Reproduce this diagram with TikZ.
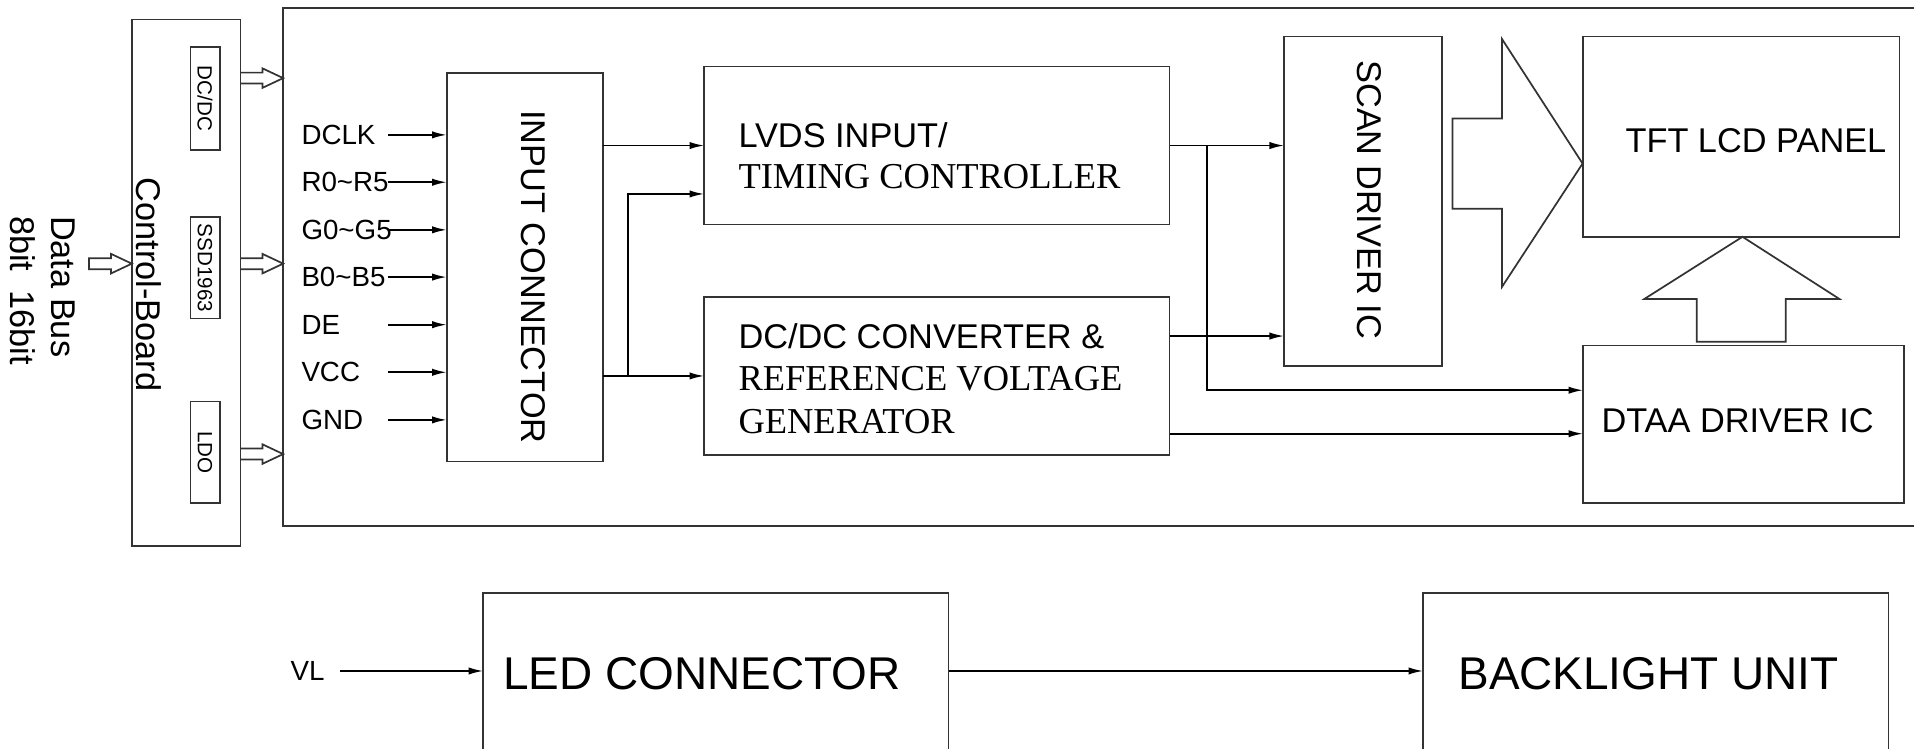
\documentclass[tikz,border=0pt]{standalone}
\usepackage{fontspec}
\setmainfont{Liberation Serif}
\setsansfont{Liberation Sans}
\usetikzlibrary{arrows.meta}
\begin{document}
\begin{tikzpicture}[x=0.01cm,y=-0.01cm,
  boxline/.style={draw=black!80, line width=0.4pt, line join=miter},
  blk/.style={boxline, rectangle, inner sep=0pt, outer sep=0pt},
  arr/.style={draw=black, line width=0.4pt, -{Latex[length=3.4pt,width=1.7pt]}},
  wire/.style={draw=black, line width=0.4pt},
  txt/.style={inner sep=0pt, outer sep=0pt, font=\sffamily\fontsize{8pt}{9.6pt}\selectfont},
  lbl/.style={inner sep=0pt, outer sep=0pt, font=\sffamily\fontsize{6.46pt}{7.5pt}\selectfont},
  tinytxt/.style={inner sep=0pt, outer sep=0pt, font=\sffamily\fontsize{4.8pt}{5.5pt}\selectfont},
  bigtxt/.style={inner sep=0pt, outer sep=0pt, font=\sffamily\fontsize{10.7pt}{12pt}\selectfont},
  seriftxt/.style={inner sep=0pt, outer sep=0pt, font=\rmfamily\fontsize{8.5pt}{10pt}\selectfont},
]
\useasboundingbox (0,0) rectangle (1568,613.6);
\fill[white] (0,0) rectangle (1568,613.6);
\clip (0,0) rectangle (1568,613.6);

% ---------- Control board ----------
\node[blk, minimum width=0.89cm, minimum height=4.31cm] (cb) at (152.5,231.5) {};
\node[txt, rotate=-90] (cbt) at (121.5,233) {Control-Board};
\node[blk, minimum width=0.24cm, minimum height=0.84cm] (sdc) at (168,80.6) {};
\node[tinytxt, rotate=-90] (sdct) at (sdc) {DC/DC};
\node[blk, minimum width=0.24cm, minimum height=0.83cm] (sssd) at (168,219.5) {};
\node[tinytxt, rotate=-90] (sssdt) at (sssd) {SSD1963};
\node[blk, minimum width=0.24cm, minimum height=0.83cm] (sldo) at (168,370.5) {};
\node[tinytxt, rotate=-90] (sldot) at (sldo) {LDO};

% data bus text
\node[txt, rotate=-90, anchor=west] (db1) at (52,177) {Data Bus};
\node[txt, rotate=-90, anchor=west] (db2) at (19,177) {8bit\ \ 16bit};

% data bus hollow arrow
\draw[boxline] (73,211.5) -- (91,211.5) -- (91,208) -- (108,216) -- (91,224) -- (91,220.5) -- (73,220.5) -- cycle;

% hollow arrows control board -> module
\foreach \yy in {64,216,372} {
  \draw[boxline] (197,\yy-4.5) -- (215,\yy-4.5) -- (215,\yy-8) -- (232,\yy) -- (215,\yy+8) -- (215,\yy+4.5) -- (197,\yy+4.5);
}

% ---------- Module frame ----------
\coordinate (mtl) at (232,6.5);
\coordinate (mbl) at (232,431);
\draw[boxline] (1580,6.5) -- (mtl) -- (mbl) -- (1580,431);

% ---------- Input connector ----------
\node[blk, minimum width=1.28cm, minimum height=3.18cm] (inconn) at (430,219) {};
\node[txt, rotate=-90] (inconnt) at (437,227) {INPUT CONNECTOR};

\foreach \t/\yy [count=\i] in {DCLK/110.5, R0\textasciitilde R5/149.3, G0\textasciitilde G5/188.3, B0\textasciitilde B5/227, DE/266, VCC/305, GND/344} {
  \node[lbl, anchor=west] (lab\i) at (247,\yy) {\t};
  \coordinate (src\i) at (318,\yy);
  \draw[arr] (src\i) -- (inconn.west |- src\i);
}

% ---------- LVDS / DC-DC ----------
\node[blk, minimum width=3.81cm, minimum height=1.295cm] (lvds) at (767.5,119.25) {};
\node[txt, anchor=base west] (lvdst1) at (605,121) {LVDS INPUT/};
\node[seriftxt, anchor=base west] (lvdst2) at (605,154.8) {TIMING CONTROLLER};

\node[blk, minimum width=3.81cm, minimum height=1.29cm] (dcconv) at (767.5,308) {};
\node[txt, anchor=base west] (dct1) at (605,285.5) {DC/DC CONVERTER \&};
\node[seriftxt, anchor=base west] (dct2) at (605,320) {REFERENCE VOLTAGE};
\node[seriftxt, anchor=base west] (dct3) at (605,354.8) {GENERATOR};

% ---------- Scan driver ----------
\node[blk, minimum width=1.29cm, minimum height=2.70cm] (scan) at (1116.5,165) {};
\node[txt, rotate=-90] (scant) at (1122,163.6) {SCAN DRIVER IC};

% ---------- TFT panel / data driver ----------
\node[blk, minimum width=2.59cm, minimum height=1.64cm] (tft) at (1426.5,112) {};
\node[txt] (tftt) at (1438.5,115) {TFT LCD PANEL};
\node[blk, minimum width=2.63cm, minimum height=1.29cm] (dtaa) at (1428.5,347.5) {};
\node[txt] (dtaat) at (1423.5,344.5) {DTAA DRIVER IC};

% big hollow arrows
\draw[boxline] (1190,97) -- (1230.5,97) -- (1230.5,32) -- (1296.5,134) -- (1230.5,235) -- (1230.5,171) -- (1190,171) -- cycle;
\draw[boxline] (1390,280) -- (1390,245) -- (1347,245) -- (1427.5,194) -- (1507,245) -- (1463,245) -- (1463,280) -- cycle;

% ---------- connectors ----------
\coordinate (y159) at (0,158.9);
\coordinate (y275) at (0,275.3);
\coordinate (y320) at (0,319.7);
\coordinate (y355) at (0,355.3);
\coordinate (j1) at (514.5,308);
\coordinate (j2) at (989,119.25);

\draw[arr] (inconn.east |- lvds.west) -- (lvds.west);
\draw[arr] (inconn.east |- dcconv.west) -- (dcconv.west);
\draw[arr] (j1) |- (lvds.west |- y159);
\draw[arr] (lvds.east) -- (scan.west |- lvds.east);
\draw[arr] (j2) |- (dtaa.west |- y320);
\draw[arr] (dcconv.east |- y275) -- (scan.west |- y275);
\draw[arr] (dcconv.east |- y355) -- (dtaa.west |- y355);

% ---------- LED / Backlight ----------
\node[blk, minimum width=3.81cm, minimum height=2.14cm] (led) at (586.5,593) {};
\node[bigtxt] (ledt) at (575,551.6) {LED CONNECTOR};
\node[blk, minimum width=3.81cm, minimum height=2.14cm] (bl) at (1356.5,593) {};
\node[bigtxt] (blt) at (1350.5,551.6) {BACKLIGHT UNIT};

\node[lbl, anchor=west] (vl) at (238,549.7) {VL};
\coordinate (vls) at (278.5,549.7);
\draw[arr] (vls) -- (led.west |- vls);
\draw[arr] (led.east |- vls) -- (bl.west |- vls);

\end{tikzpicture}
\end{document}
